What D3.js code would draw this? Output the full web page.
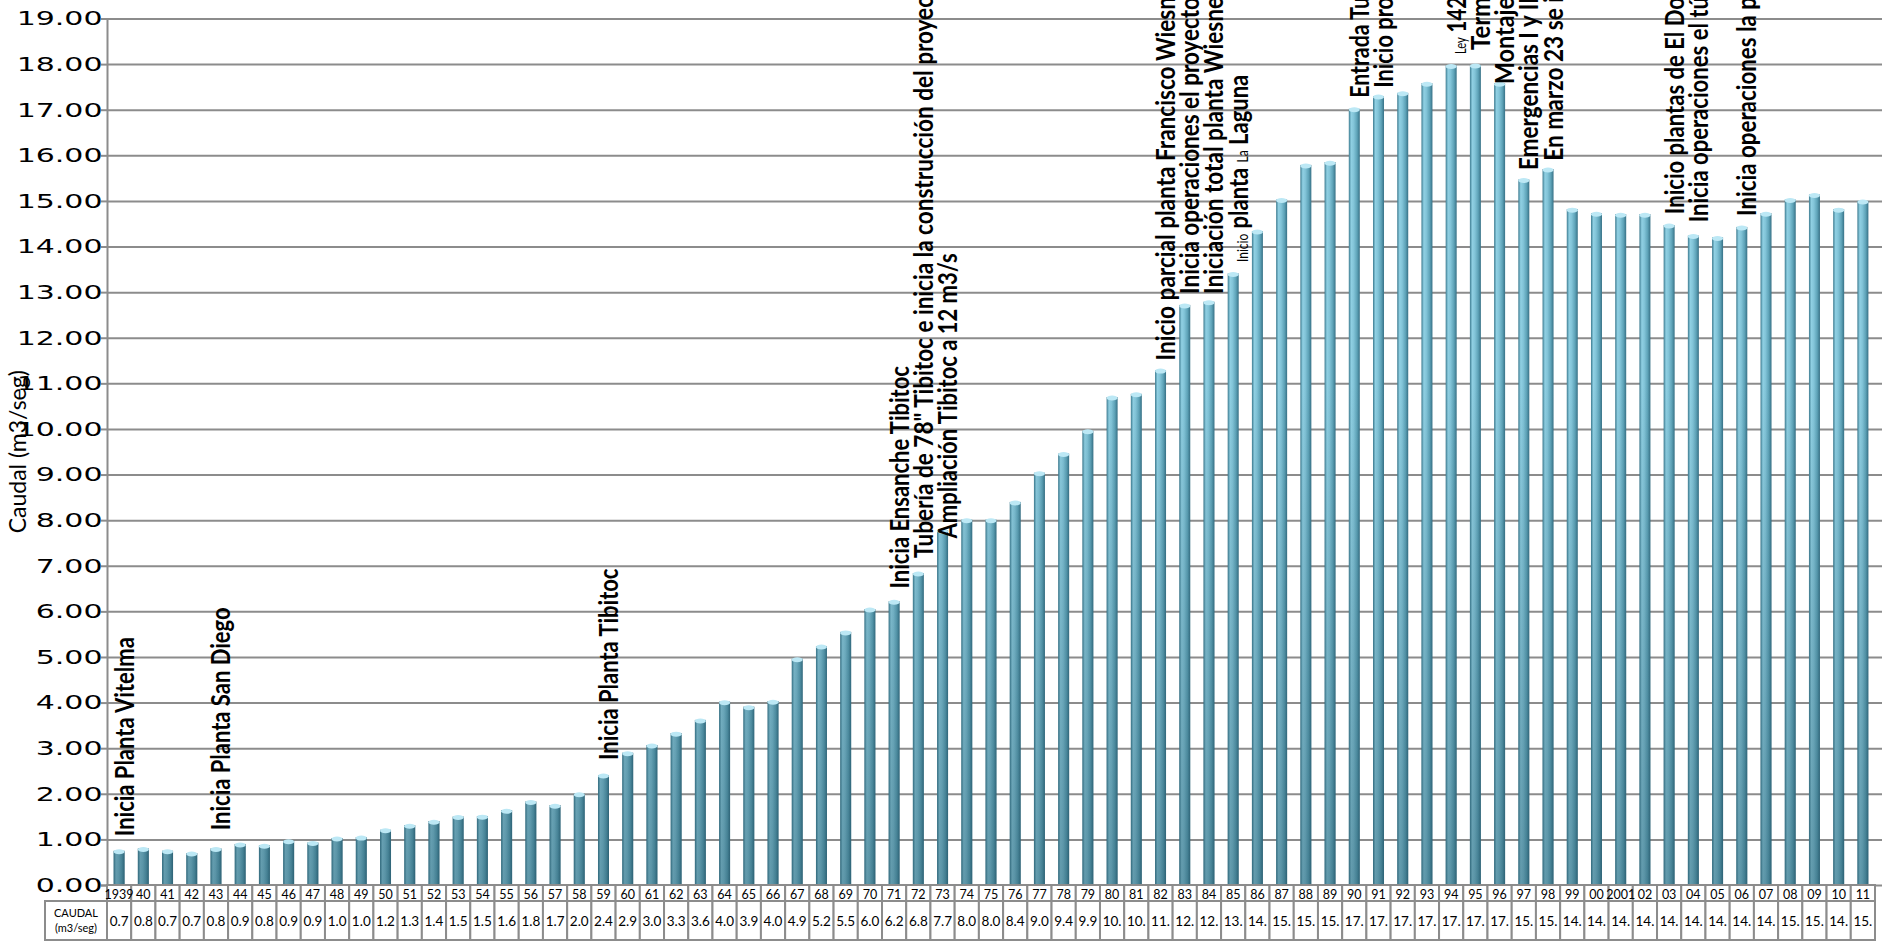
<!DOCTYPE html>
<html>
<head>
<meta charset="utf-8">
<script src="https://cdn.jsdelivr.net/npm/d3@7"></script>
<style>
    html, body { margin: 0; padding: 0; background: #fff; overflow: hidden; }
    svg { display: block; }
    .note { font-family: Lato, "Open Sans", sans-serif; font-weight: 700; fill: #000; }
    .cell text { font-family: Lato, "Open Sans", sans-serif; fill: #000; }
</style>
</head>
<body>
<div id="chart"></div>
<script>
// Categories (as printed under the bars)
var years = ['1939', '40', '41', '42', '43', '44', '45', '46', '47', '48', '49',
    '50', '51', '52', '53', '54', '55', '56', '57', '58', '59',
    '60', '61', '62', '63', '64', '65', '66', '67', '68', '69',
    '70', '71', '72', '73', '74', '75', '76', '77', '78', '79',
    '80', '81', '82', '83', '84', '85', '86', '87', '88', '89',
    '90', '91', '92', '93', '94', '95', '96', '97', '98', '99',
    '00', '2001', '02', '03', '04', '05', '06', '07', '08', '09', '10', '11'];

// Caudal (m3/seg)
var caudal = [0.75, 0.80, 0.75, 0.70, 0.80, 0.90, 0.87, 0.97, 0.93, 1.03, 1.05,
    1.21, 1.31, 1.40, 1.50, 1.51, 1.64, 1.83, 1.75, 2.00, 2.41,
    2.90, 3.07, 3.33, 3.62, 4.02, 3.91, 4.03, 4.96, 5.24, 5.55,
    6.05, 6.22, 6.84, 7.78, 8.01, 8.01, 8.40, 9.04, 9.46, 9.96,
    10.70, 10.77, 11.29, 12.72, 12.79, 13.41, 14.34, 15.03, 15.79, 15.85,
    17.02, 17.30, 17.37, 17.58, 17.97, 17.98, 17.58, 15.47, 15.70, 14.82,
    14.73, 14.71, 14.71, 14.47, 14.24, 14.20, 14.43, 14.73, 15.03, 15.14, 14.82, 15.00];

var yTicks = d3.range(0, 20);

// Vertical notes: year it sits on, value where it starts, text.
// {..} marks the words printed smaller; cut = runs past the top edge
var notes = [
    {at: '1939', level: 1.07, text: 'Inicia Planta Vitelma'},
    {at: '43', level: 1.20, text: 'Inicia Planta San Diego'},
    {at: '59', level: 2.74, text: 'Inicia Planta Tibitoc'},
    {at: '71', level: 6.50, text: 'Inicia  Ensanche Tibitoc'},
    {at: '72', level: 7.17, text: 'Tubería de 78" Tibitoc e inicia la construcción del proyec', cut: true},
    {at: '73', level: 7.60, text: 'Ampliación Tibitoc a 12 m3/s'},
    {at: '82', level: 11.50, text: 'Inicio parcial planta Francisco Wiesn', cut: true},
    {at: '83', level: 12.96, text: 'Inicia operaciones el proyecto', cut: true},
    {at: '84', level: 12.96, text: 'Iniciación total planta Wiesne', cut: true},
    {at: '85', level: 13.66, text: '{Inicio} planta {La} Laguna'},
    {at: '90', level: 17.26, text: 'Entrada Tu', cut: true},
    {at: '91', level: 17.48, text: 'Inicio pro', cut: true},
    {at: '94', level: 18.22, text: '{Ley} 142', cut: true},
    {at: '95', level: 18.31, text: 'Term', cut: true},
    {at: '96', level: 17.56, text: 'Montaje', cut: true},
    {at: '97', level: 15.68, text: 'Emergencias I y II', cut: true},
    {at: '98', level: 15.88, text: 'En marzo 23 se i', cut: true},
    {at: '03', level: 14.71, text: 'Inicio plantas de El Do', cut: true},
    {at: '04', level: 14.53, text: 'Inicia operaciones el tú', cut: true},
    {at: '06', level: 14.67, text: 'Inicia operaciones la p', cut: true}
];

var width = 1882, height = 944;
var plotLeft = 107, plotRight = 1875, plotTop = 18.5, plotBottom = 885;
var gridColor = '#8c8c8c';

var svg = d3.select('#chart').append('svg')
    .attr('width', width)
    .attr('height', height);

var x = d3.scaleBand().domain(years).range([plotLeft, plotRight]);
var y = d3.scaleLinear().domain([0, 19]).range([plotBottom, plotTop]);
var bw = x.bandwidth();
var barWidth = 11;

// cylinder shading
var defs = svg.append('defs');
var cyl = defs.append('linearGradient').attr('id', 'cyl')
    .attr('x1', 0).attr('x2', 1).attr('y1', 0).attr('y2', 0);
[['0%', '#3b7a8f'], ['22%', '#90d0e3'], ['45%', '#82c4d8'], ['75%', '#5ea3b8'], ['100%', '#377186']]
    .forEach(function(s) { cyl.append('stop').attr('offset', s[0]).attr('stop-color', s[1]); });

var shade = defs.append('linearGradient').attr('id', 'shade')
    .attr('gradientUnits', 'userSpaceOnUse')
    .attr('x1', 0).attr('x2', 0).attr('y1', y(11)).attr('y2', plotBottom);
shade.append('stop').attr('offset', '0%').attr('stop-color', '#1d4a5a').attr('stop-opacity', 0);
shade.append('stop').attr('offset', '100%').attr('stop-color', '#1d4a5a').attr('stop-opacity', 0.4);

// gridlines
var grid = svg.append('g')
    .attr('transform', 'translate(' + plotLeft + ',0)')
    .call(d3.axisLeft(y).tickValues(yTicks).tickSize(-(width - plotLeft)).tickFormat(''));
grid.select('.domain').remove();
grid.selectAll('line').attr('stroke', gridColor).attr('stroke-width', 2);

// y axis, labels drawn wide like the stretched original
var yAxis = svg.append('g')
    .attr('transform', 'translate(' + plotLeft + ',0)')
    .call(d3.axisLeft(y).tickValues(yTicks).tickSize(6).tickFormat(d3.format('.2f')));
yAxis.select('.domain').attr('stroke', gridColor).attr('stroke-width', 2);
yAxis.selectAll('line').attr('stroke', gridColor).attr('stroke-width', 2);
yAxis.selectAll('text')
    .attr('x', -3)
    .attr('transform', 'scale(1.5,1)')
    .attr('font-family', '"DejaVu Sans", sans-serif')
    .attr('font-size', 20)
    .attr('fill', '#000');

svg.append('text')
    .attr('transform', 'translate(17,' + ((plotTop + plotBottom) / 2) + ') rotate(-90)')
    .attr('text-anchor', 'middle')
    .attr('dominant-baseline', 'central')
    .attr('font-family', 'Lato, sans-serif')
    .attr('font-size', 23)
    .text('Caudal (m3/seg)');

// bars
var bars = svg.append('g').selectAll('g')
    .data(caudal)
    .enter().append('g');

bars.append('rect')
    .attr('x', function(d, i) { return x(years[i]) + (bw - barWidth) / 2; })
    .attr('y', function(d) { return y(d); })
    .attr('width', barWidth)
    .attr('height', function(d) { return plotBottom - y(d); })
    .attr('fill', 'url(#cyl)');

bars.append('rect')
    .attr('x', function(d, i) { return x(years[i]) + (bw - barWidth) / 2; })
    .attr('y', function(d) { return y(d); })
    .attr('width', barWidth)
    .attr('height', function(d) { return plotBottom - y(d); })
    .attr('fill', 'url(#shade)');

bars.append('ellipse')
    .attr('cx', function(d, i) { return x(years[i]) + bw / 2; })
    .attr('cy', function(d) { return y(d) + 1; })
    .attr('rx', barWidth / 2)
    .attr('ry', 2.5)
    .attr('fill', '#bce8f5');

// data table under the axis
var table = svg.append('g').attr('class', 'cell');
var yearTop = plotBottom, yearH = 16, valTop = plotBottom + yearH, valH = 39;

table.selectAll('rect.yr')
    .data(years)
    .enter().append('rect')
    .attr('class', 'yr')
    .attr('x', function(d) { return x(d); })
    .attr('y', yearTop)
    .attr('width', bw)
    .attr('height', yearH)
    .attr('fill', '#fff')
    .attr('stroke', gridColor)
    .attr('stroke-width', 2);

table.selectAll('text.yr')
    .data(years)
    .enter().append('text')
    .attr('class', 'yr')
    .attr('x', function(d) { return x(d) + bw / 2; })
    .attr('y', yearTop + yearH / 2 + 1)
    .attr('text-anchor', 'middle')
    .attr('dominant-baseline', 'central')
    .attr('font-size', 12.5)
    .text(function(d) { return d; });

table.selectAll('rect.val')
    .data(caudal)
    .enter().append('rect')
    .attr('class', 'val')
    .attr('x', function(d, i) { return x(years[i]); })
    .attr('y', valTop)
    .attr('width', bw)
    .attr('height', valH)
    .attr('fill', '#fff')
    .attr('stroke', gridColor)
    .attr('stroke-width', 2);

// cells are too narrow, so the numbers show clipped to three characters
table.selectAll('text.val')
    .data(caudal)
    .enter().append('text')
    .attr('class', 'val')
    .attr('x', function(d, i) { return x(years[i]) + bw / 2; })
    .attr('y', valTop + valH / 2)
    .attr('text-anchor', 'middle')
    .attr('dominant-baseline', 'central')
    .attr('font-size', 13.5)
    .text(function(d) { return d.toFixed(2).slice(0, 3); });

table.append('rect')
    .attr('x', 45).attr('y', valTop)
    .attr('width', plotLeft - 45).attr('height', valH)
    .attr('fill', '#fff').attr('stroke', gridColor).attr('stroke-width', 2);

table.append('text')
    .attr('x', (45 + plotLeft) / 2).attr('y', valTop + 11)
    .attr('text-anchor', 'middle').attr('dominant-baseline', 'central')
    .attr('font-size', 11)
    .text('CAUDAL');
table.append('text')
    .attr('x', (45 + plotLeft) / 2).attr('y', valTop + 26)
    .attr('text-anchor', 'middle').attr('dominant-baseline', 'central')
    .attr('font-size', 11)
    .text('(m3/seg)');

// vertical notes
var noteSize = 22, smallSize = 12;
notes.forEach(function(n) {
    var cx = x(n.at) + bw / 2 + 5;
    var t = svg.append('text')
        .attr('class', 'note')
        .attr('transform', 'translate(' + cx + ',' + y(n.level) + ') scale(1.2,1) rotate(-90)')
        .attr('x', 0)
        .attr('y', noteSize * 0.36)
        .attr('font-size', noteSize);

    n.text.split(/(\{[^}]*\})/).forEach(function(part) {
        if (!part) return;
        var small = part.charAt(0) === '{';
        t.append('tspan')
            .attr('font-size', small ? smallSize : noteSize)
            .attr('font-weight', small ? 400 : 700)
            .text(small ? part.slice(1, -1) : part);
    });

    if (n.cut) {
        t.attr('textLength', y(n.level) + 3).attr('lengthAdjust', 'spacingAndGlyphs');
    }
});
</script>
</body>
</html>
